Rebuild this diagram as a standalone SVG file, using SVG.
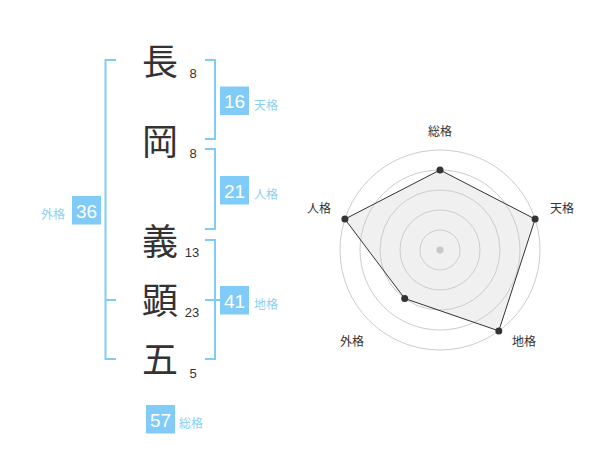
<svg xmlns="http://www.w3.org/2000/svg" width="600" height="470" viewBox="0 0 600 470">
<style>
.ch{font-family:"Noto Sans CJK JP","Noto Sans CJK SC",sans-serif;font-size:36px;fill:#333;text-anchor:middle}
.num{font-family:"Liberation Sans",Arial,sans-serif;font-size:13px;fill:#333;text-anchor:middle}
.box{fill:#80cbf7}
.bt{font-family:"Liberation Sans",Arial,sans-serif;font-size:19px;fill:#fff;text-anchor:middle}
.lb{font-family:"Noto Sans CJK JP","Noto Sans CJK SC",sans-serif;font-size:12px;fill:#8ccff5}
.br{fill:none;stroke:#80cbf7;stroke-width:2}
.rl{font-family:"Noto Sans CJK JP","Noto Sans CJK SC",sans-serif;font-size:12px;fill:#333;text-anchor:middle}
.ring{fill:none;stroke:#cccccc;stroke-width:1}
</style>
<rect width="600" height="470" fill="#fff"/>
<g id="connectors">
<path class="br" d="M116,60 H105.5 V359 H116 M105.5,300 H116"/>
<path class="br" d="M205,60 H215 V139 H205"/>
<path class="br" d="M205,149 H215 V229 H205"/>
<path class="br" d="M205,240 H215 V359 H205 M205,300 H220"/>
</g>
<g id="name">
<text class="ch" x="160" y="75">長</text>
<text class="ch" x="160" y="155">岡</text>
<text class="ch" x="160" y="255">義</text>
<text class="ch" x="160" y="314">顕</text>
<text class="ch" x="160" y="373">五</text>
<text class="num" x="193" y="77.5">8</text>
<text class="num" x="193" y="158">8</text>
<text class="num" x="192" y="257">13</text>
<text class="num" x="192" y="317">23</text>
<text class="num" x="193" y="377.5">5</text>
</g>
<g id="tenkaku">
<rect class="box" x="220" y="86.5" width="29" height="28.5"/>
<text class="bt" x="234.5" y="108">16</text>
<text class="lb" x="254" y="109.5">天格</text>
</g>
<g id="jinkaku">
<rect class="box" x="220" y="176" width="29" height="28.5"/>
<text class="bt" x="234.5" y="197.5">21</text>
<text class="lb" x="254" y="199">人格</text>
</g>
<g id="chikaku">
<rect class="box" x="220" y="286" width="29" height="28.5"/>
<text class="bt" x="234.5" y="307.5">41</text>
<text class="lb" x="254" y="309">地格</text>
</g>
<g id="gaikaku">
<rect class="box" x="72" y="196" width="29" height="28.5"/>
<text class="bt" x="86.5" y="217.5">36</text>
<text class="lb" x="41" y="219">外格</text>
</g>
<g id="soukaku">
<rect class="box" x="146" y="405" width="29" height="28.5"/>
<text class="bt" x="160.5" y="426.5">57</text>
<text class="lb" x="179" y="428">総格</text>
</g>
<g id="radar">
<polygon points="440,170 535.1,219.1 498.8,330.9 404.7,298.5 344.9,219.1" fill="#f0f0f0"/>
<circle class="ring" cx="440" cy="250" r="20"/>
<circle class="ring" cx="440" cy="250" r="40"/>
<circle class="ring" cx="440" cy="250" r="60"/>
<circle class="ring" cx="440" cy="250" r="80"/>
<circle class="ring" cx="440" cy="250" r="100"/>
<circle cx="440" cy="250" r="3.5" fill="#c8c8c8"/>
<polygon points="440,170 535.1,219.1 498.8,330.9 404.7,298.5 344.9,219.1" fill="none" stroke="#333" stroke-width="1"/>
<g fill="#333">
<circle cx="440" cy="170" r="3.5"/>
<circle cx="535.1" cy="219.1" r="3.5"/>
<circle cx="498.8" cy="330.9" r="3.5"/>
<circle cx="404.7" cy="298.5" r="3.5"/>
<circle cx="344.9" cy="219.1" r="3.5"/>
</g>
<text class="rl" x="440" y="136">総格</text>
<text class="rl" x="562" y="213">天格</text>
<text class="rl" x="319" y="213">人格</text>
<text class="rl" x="352" y="346">外格</text>
<text class="rl" x="524" y="346">地格</text>
</g>
</svg>
